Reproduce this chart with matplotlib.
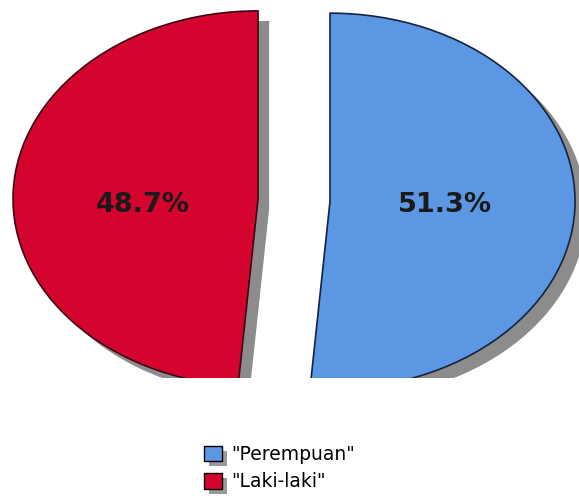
import matplotlib.pyplot as plt
import matplotlib.patheffects as pe
from matplotlib.patches import Patch

labels = ['"Perempuan"', '"Laki-laki"']
values = [51.3, 48.7]
colors = ['#5b97e3', '#d5042f']
edges = ['#14233f', '#3a0612']

fig = plt.figure(figsize=(5.79, 4.99), dpi=100)
ax = fig.add_axes([0, 0.2425, 1, 0.7575])

shadow = [pe.SimplePatchShadow(offset=(8, -7.2), shadow_rgbFace='0.55', alpha=1.0), pe.Normal()]

wedges, texts, autotexts = ax.pie(
    values,
    colors=colors,
    startangle=90,
    counterclock=False,
    explode=[0.147, 0.147],
    autopct='%1.1f%%',
    pctdistance=0.47,
    wedgeprops=dict(linewidth=1.2),
    textprops=dict(fontsize=19.5, fontweight='bold', color='#1a1a1a'),
)
for w, ec in zip(wedges, edges):
    w.set_edgecolor(ec)
    w.set_path_effects(shadow)
    w.set_clip_on(True)
    w.set_clip_box(ax.bbox)

# both labels sit on the same line in the original
for t in autotexts:
    t.set_y(-0.027)

ax.set_aspect('auto')
ax.set_xlim(-1.2, 1.163)
ax.set_ylim(-0.947, 1.064)
ax.axis('off')

# legend with small shadows
handles = []
for c in colors:
    p = Patch(facecolor=c, edgecolor='black', linewidth=1)
    p.set_path_effects([pe.SimplePatchShadow(offset=(3.5, -3.5), shadow_rgbFace='0.6', alpha=1.0), pe.Normal()])
    handles.append(p)

fig.legend(handles, labels, loc='upper left', bbox_to_anchor=(0.3523, 0.1082),
           frameon=False, fontsize=13.5, handlelength=0.95, handleheight=0.9,
           handletextpad=0.5, labelspacing=0.45, borderpad=0, borderaxespad=0)

fig.savefig('out.png', dpi=100)
